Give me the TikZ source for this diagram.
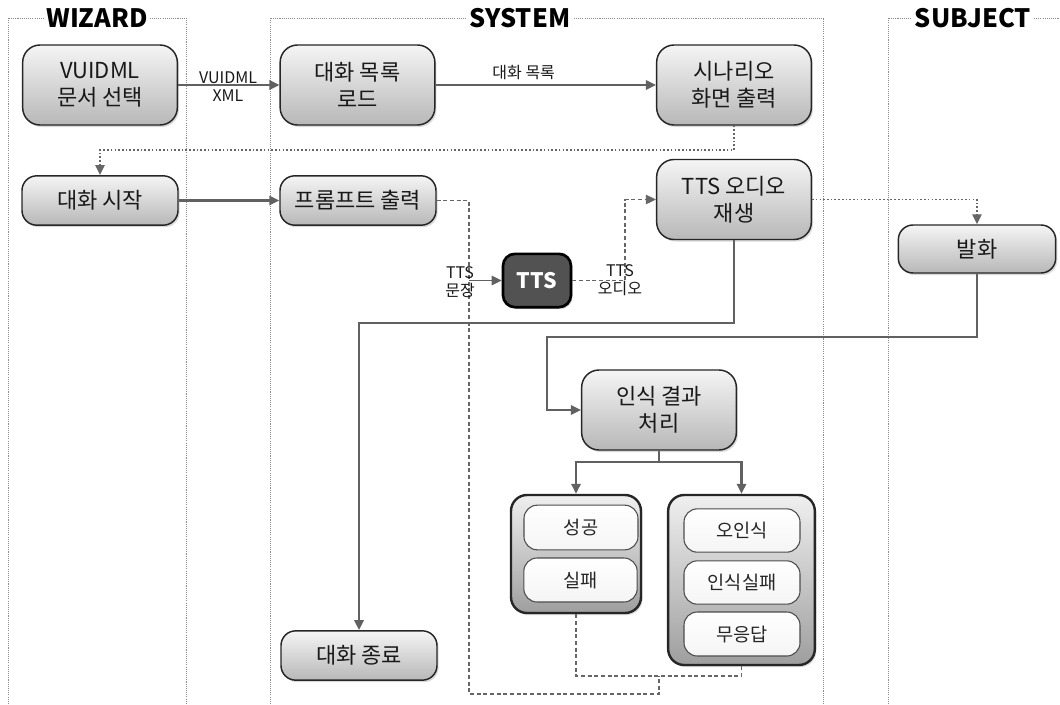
\documentclass[tikz,border=0pt]{standalone}
\usepackage{fontspec}
\setmainfont{Noto Sans CJK KR}
\usetikzlibrary{arrows.meta,shadows,calc}

\begin{document}
\begin{tikzpicture}[x=0.75pt,y=-0.75pt,
  lane/.style={draw=black!45, line width=0.5pt, dash pattern=on 0.8pt off 0.8pt},
  lanetitle/.style={fill=white, font=\bfseries\fontsize{19}{22}\selectfont, inner xsep=2pt, inner ysep=1pt},
  procbox/.style={draw=black!85, line width=1.1pt, rounded corners=13pt,
    top color=black!4, bottom color=black!28, align=center, text=black!90,
    font=\fontsize{16.5}{20}\selectfont, inner sep=0pt,
    drop shadow={opacity=0.3, shadow xshift=1.2pt, shadow yshift=-1.5pt}},
  bigbox/.style={procbox, minimum width=116pt, minimum height=60pt},
  flatbox/.style={procbox, minimum width=117pt, minimum height=37pt, rounded corners=11pt},
  enginebox/.style={draw=black, line width=2pt, rounded corners=9pt, fill=black!68,
    text=white, font=\bfseries\fontsize{16}{19}\selectfont,
    minimum width=51pt, minimum height=40pt, inner sep=0pt,
    drop shadow={opacity=0.3, shadow xshift=1.2pt, shadow yshift=-1.5pt}},
  groupbox/.style={draw=black!85, line width=1.8pt, rounded corners=12pt,
    top color=black!6, bottom color=black!38, inner sep=0pt,
    drop shadow={opacity=0.3, shadow xshift=1.2pt, shadow yshift=-1.5pt}},
  itembox/.style={draw=black!70, line width=0.8pt, rounded corners=10pt,
    top color=white, bottom color=black!4, text=black!85,
    font=\fontsize{14}{17}\selectfont, inner sep=0pt},
  lbl/.style={font=\fontsize{12}{13.5}\selectfont, align=center, text=black!90, inner sep=1pt},
  flow/.style={draw=black!62, line width=1.6pt},
  dashflow/.style={draw=black!60, line width=1.1pt, dash pattern=on 3pt off 2pt},
  dotflow/.style={draw=black!60, line width=1.4pt, dash pattern=on 1.2pt off 1.6pt},
  arr/.style={-{Triangle[length=7.5pt,width=7pt]}},
]
\useasboundingbox (0,0) rectangle (1060,704);

% swim lanes
\draw[lane] (8,704) -- (8,18) -- (186,18) -- (186,704);
\draw[lane] (270,704) -- (270,18) -- (823,18) -- (823,704);
\draw[lane] (888,704) -- (888,18) -- (1060,18);
\node[lanetitle] (tw) at (97,18) {WIZARD};
\node[lanetitle] (ts) at (520,18) {SYSTEM};
\node[lanetitle] (tj) at (973,18) {SUBJECT};

% process boxes
\node[bigbox] (vuidml) at (100,85) {VUIDML\\문서 선택};
\node[bigbox] (load) at (357.5,85) {대화 목록\\로드};
\node[bigbox] (scen) at (734,85) {시나리오\\화면 출력};
\node[flatbox] (start) at (100,200.5) {대화 시작};
\node[flatbox] (prompt) at (358,200.5) {프롬프트 출력};
\node[bigbox] (play) at (734,199.5) {TTS 오디오\\재생};
\node[flatbox, minimum width=118pt, minimum height=36pt] (speak) at (977,249) {발화};
\node[enginebox] (tts) at (537,280.5) {TTS};
\node[bigbox] (recog) at (659,410) {인식 결과\\처리};
\node[flatbox] (end) at (359,655.5) {대화 종료};

% result groups
\node[groupbox, minimum width=97.5pt, minimum height=88.5pt] (g1) at (576,554) {};
\node[itembox, minimum width=85.5pt, minimum height=33.5pt] (ok) at (581,527.5) {성공};
\node[itembox, minimum width=85pt, minimum height=33pt] (fail) at (580.5,580) {실패};
\node[groupbox, minimum width=110pt, minimum height=127.5pt] (g2) at (741.5,580) {};
\node[itembox, minimum width=87pt, minimum height=32.5pt] (mis) at (742,530.5) {오인식};
\node[itembox, minimum width=87pt, minimum height=32.5pt] (nrec) at (742,582.5) {인식실패};
\node[itembox, minimum width=87pt, minimum height=33pt] (nores) at (742,634) {무응답};

% connectors
\draw[flow,arr] (vuidml.east) -- (load.west);
\node[lbl] (lxml) at (228,86.5) {VUIDML\\XML};
\draw[flow,arr] (load.east) -- node[lbl, above=2pt, pos=0.4] (llist) {대화 목록} (scen.west);

\coordinate (d1) at (734,150);
\draw[dotflow,arr] (scen.south) -- (d1) -| (start.north);

\draw[flow,arr] (start.east) -- (prompt.west);

\coordinate (tapA) at (469,280.5);
\coordinate (jL) at (469,694);
\coordinate (jM) at (659,694);
\coordinate (jT) at (659,676);
\draw[dashflow] (prompt.east) -| (jL) -- (jM) -- (jT);
\draw[dashflow] (g1.south) |- (jT) -| (g2.south);
\draw[flow, line width=1.3pt, arr] (tapA) -- (tts.west);
\node[lbl] (lsent) at (460,282) {TTS\\문장};

\coordinate (tapB) at (625,280.5);
\draw[dashflow,arr] (tts.east) -- (tapB) |- (play.west);
\node[lbl] (laud) at (620,280) {TTS\\오디오};

\draw[dotflow,arr] (play.east) -| (speak.north);

\coordinate (e1) at (734,323);
\draw[flow,arr] (play.south) -- (e1) -| (end.north);

\coordinate (k1) at (547,337);
\draw[flow,arr] (speak.south) |- (k1) |- (recog.west);

\coordinate (sp) at (659,462);
\draw[flow] (recog.south) -- (sp);
\draw[flow,arr] (sp) -| (g1.north);
\draw[flow,arr] (sp) -| (g2.north);
\end{tikzpicture}
\end{document}
